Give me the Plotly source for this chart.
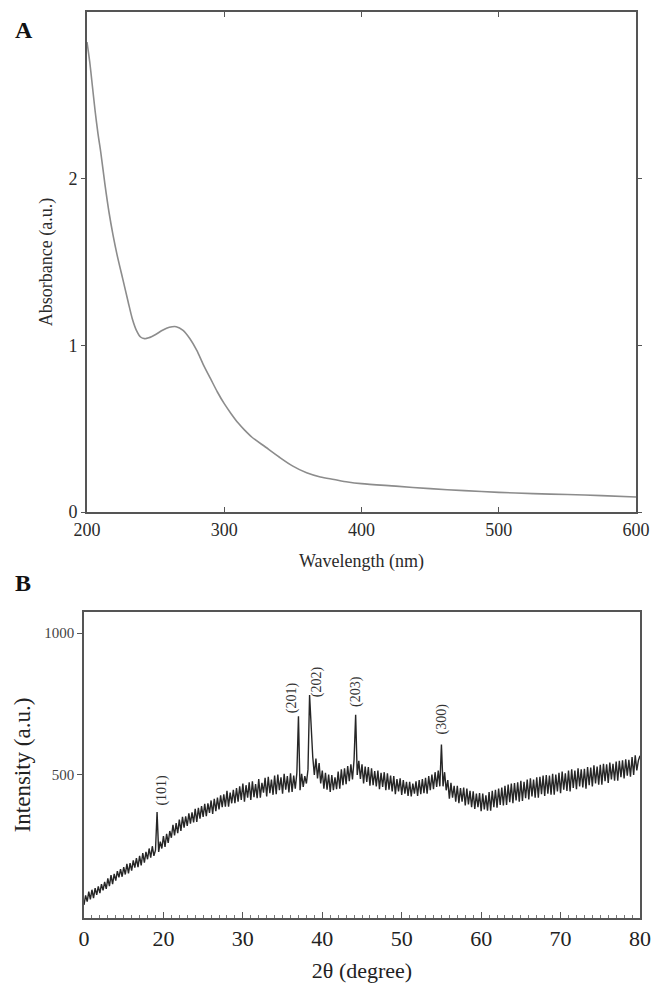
import plotly.graph_objects as go
import numpy as np

# ---------------- Panel A: UV-Vis absorbance ----------------
wavelength_nm = [200, 202, 204, 206, 208, 210, 213, 216, 219, 222, 226, 230, 233, 236, 239,
                 242, 245, 250, 255, 260, 265, 270, 275, 280, 285, 290, 295, 300, 305, 310,
                 315, 320, 330, 340, 350, 360, 370, 380, 390, 400, 425, 450, 475, 500, 525,
                 550, 575, 600]
absorbance = [2.82, 2.70, 2.55, 2.40, 2.27, 2.16, 1.97, 1.80, 1.66, 1.54, 1.40, 1.26, 1.16, 1.09, 1.05,
              1.04, 1.045, 1.065, 1.09, 1.108, 1.112, 1.09, 1.04, 0.97, 0.88, 0.80, 0.72, 0.65, 0.59, 0.535,
              0.49, 0.45, 0.39, 0.33, 0.275, 0.235, 0.21, 0.195, 0.18, 0.17, 0.155, 0.14, 0.128, 0.118, 0.11,
              0.105, 0.098, 0.09]
a_xticks = [200, 300, 400, 500, 600]
a_yticks = [0, 1, 2]

# ---------------- Panel B: XRD pattern ----------------
# sampled every 0.2 degree from 10 (left edge of the axis, labelled "0") to 80
two_theta = np.round(np.arange(10.0, 80.001, 0.2), 2)
intensity = [
    38, 72, 50, 85, 58,        # 10
    92, 62, 98, 74, 104,       # 11
    80, 112, 90, 120, 95,      # 12
    132, 105, 144, 112, 148,   # 13
    124, 158, 136, 165, 138,   # 14
    172, 146, 184, 150, 186,   # 15
    160, 196, 170, 204, 172,   # 16
    212, 178, 222, 188, 226,   # 17
    200, 238, 206, 246, 212,   # 18
    232, 367, 226, 262, 238,   # 19
    282, 244, 290, 258, 300,   # 20
    276, 322, 284, 328, 292,   # 21
    340, 300, 350, 312, 352,   # 22
    318, 362, 326, 366, 330,   # 23
    378, 332, 382, 344, 388,   # 24
    350, 396, 352, 398, 364,   # 25
    408, 360, 414, 370, 418,   # 26
    376, 426, 384, 430, 386,   # 27
    442, 386, 436, 398, 446,   # 28
    398, 452, 404, 458, 410,   # 29
    468, 404, 462, 418, 472,   # 30
    410, 476, 420, 466, 416,   # 31
    484, 418, 470, 436, 488,   # 32
    422, 492, 434, 482, 428,   # 33
    496, 430, 500, 444, 490,   # 34
    432, 502, 446, 494, 436,   # 35
    504, 438, 496, 450, 506,   # 36
    706, 444, 502, 456, 494,   # 37
    468, 518, 781, 640, 562,   # 38
    498, 556, 486, 540, 468,   # 39
    514, 450, 506, 446, 500,   # 40
    438, 498, 444, 490, 448,   # 41
    510, 450, 518, 462, 522,   # 42
    466, 530, 476, 536, 482,   # 43
    552, 711, 498, 548, 484,   # 44
    536, 468, 528, 474, 526,   # 45
    460, 522, 462, 512, 458,   # 46
    514, 448, 506, 456, 508,   # 47
    444, 504, 446, 496, 440,   # 48
    494, 430, 484, 440, 486,   # 49
    428, 480, 432, 474, 424,   # 50
    474, 422, 468, 432, 476,   # 51
    424, 480, 430, 484, 434,   # 52
    488, 432, 494, 444, 500,   # 53
    448, 508, 456, 514, 458,   # 54
    606, 458, 508, 444, 480,   # 55
    414, 470, 418, 460, 404,   # 56
    460, 398, 452, 404, 454,   # 57
    390, 450, 394, 442, 384,   # 58
    440, 378, 432, 384, 434,   # 59
    370, 432, 376, 426, 372,   # 60
    438, 372, 442, 384, 446,   # 61
    382, 450, 392, 454, 390,   # 62
    460, 392, 464, 402, 468,   # 63
    398, 470, 408, 472, 404,   # 64
    478, 406, 474, 416, 482,   # 65
    412, 486, 422, 482, 418,   # 66
    490, 418, 492, 430, 496,   # 67
    424, 498, 432, 496, 428,   # 68
    502, 428, 500, 440, 506,   # 69
    434, 510, 446, 504, 442,   # 70
    514, 440, 518, 452, 514,   # 71
    448, 522, 458, 518, 454,   # 72
    520, 450, 526, 462, 524,   # 73
    458, 532, 468, 528, 464,   # 74
    534, 464, 538, 476, 536,   # 75
    470, 542, 482, 538, 478,   # 76
    546, 478, 548, 490, 550,   # 77
    486, 554, 496, 552, 492,   # 78
    562, 498, 568, 514, 550,   # 79
    566,                       # 80
]
b_xtick_vals = [10, 20, 30, 40, 50, 60, 70, 80]
b_xtick_text = ["0", "20", "30", "40", "50", "60", "70", "80"]
b_yticks = [500, 1000]

peak_labels = ["(101)", "(201)", "(202)", "(203)", "(300)"]
peak_pos = [19.2, 37.0, 38.4, 44.2, 55.0]
peak_top = [367, 706, 781, 711, 606]
peak_xshift = [4, -7, 7, 1, 1]
peak_yshift = [4, 1, -4, 6, 8]

SERIF = "Liberation Serif, Times New Roman, serif"
W, H = 669, 993
OFF = 8  # the page body margin shifts the figure by 8 px right and down

def px_x(a, b):
    return [(a - OFF) / W, (b - OFF) / W]

def px_y(top, bottom):
    return [1 - (bottom - OFF) / H, 1 - (top - OFF) / H]

fig = go.Figure()
fig.add_trace(go.Scatter(x=wavelength_nm, y=absorbance, mode="lines",
                         line=dict(color="#8c8c8c", width=1.6, shape="spline", smoothing=0.8),
                         xaxis="x", yaxis="y", showlegend=False))
fig.add_trace(go.Scatter(x=two_theta, y=intensity, mode="lines",
                         line=dict(color="#262626", width=1.4),
                         xaxis="x2", yaxis="y2", showlegend=False))

frame_a = dict(showline=True, linecolor="#555555", linewidth=2, showgrid=False, zeroline=False,
               automargin=False)
frame_b = dict(showline=True, linecolor="#555555", linewidth=1.6, showgrid=False, zeroline=False,
               automargin=False)

fig.update_layout(
    width=W, height=H,
    margin=dict(l=0, r=0, t=0, b=0),
    paper_bgcolor="white", plot_bgcolor="white",
    font=dict(family=SERIF, color="#333333"),
    xaxis=dict(domain=px_x(87, 636), range=[200, 600], tickvals=a_xticks,
               ticks="inside", ticklen=5, tickcolor="#555555", mirror="ticks",
               tickfont=dict(size=18, color="#2a2a2a"),
               title=dict(text="Wavelength (nm)", font=dict(size=18, color="#2a2a2a"), standoff=16),
               anchor="y", **frame_a),
    yaxis=dict(domain=px_y(12, 512), range=[0, 3], tickvals=a_yticks,
               ticks="outside", ticklen=4, tickcolor="#555555", mirror="ticks",
               tickfont=dict(size=18, color="#2a2a2a"),
               title=dict(text="Absorbance (a.u.)", font=dict(size=18, color="#2a2a2a"), standoff=11),
               anchor="x", **frame_a),
    xaxis2=dict(domain=px_x(84, 640), range=[10, 80], tickvals=b_xtick_vals, ticktext=b_xtick_text,
                ticks="inside", ticklen=6, tickcolor="#555555", mirror=True,
                minor=dict(dtick=1, ticks="inside", ticklen=3, tickcolor="#777777"),
                tickfont=dict(size=22, color="#222222"),
                title=dict(text="2θ (degree)", font=dict(size=22, color="#222222"), standoff=12),
                anchor="y2", **frame_b),
    yaxis2=dict(domain=px_y(612, 918), range=[-8, 1075], tickvals=b_yticks,
                ticks="outside", ticklen=5, tickcolor="#555555", mirror=True,
                tickfont=dict(size=15, color="#444444"),
                title=dict(text="Intensity (a.u.)", font=dict(size=23, color="#222222"), standoff=7),
                anchor="x2", **frame_b),
)

annotations = [
    dict(text="<b>A</b>", x=(13 - OFF) / W, y=1 - (15 - OFF) / H, xref="paper", yref="paper",
         showarrow=False, font=dict(size=24, color="#111111", family=SERIF)),
    dict(text="<b>B</b>", x=(13 - OFF) / W, y=1 - (583 - OFF) / H, xref="paper", yref="paper",
         showarrow=False, font=dict(size=24, color="#111111", family=SERIF)),
]
for lab, xp, yt, dx, dy in zip(peak_labels, peak_pos, peak_top, peak_xshift, peak_yshift):
    annotations.append(dict(text=lab, x=xp, y=yt, xref="x2", yref="y2", showarrow=False,
                            textangle=-90, xanchor="center", yanchor="bottom",
                            xshift=dx, yshift=dy,
                            font=dict(size=14, color="#333333", family=SERIF)))
fig.update_layout(annotations=annotations)

fig.write_html("out.html")
